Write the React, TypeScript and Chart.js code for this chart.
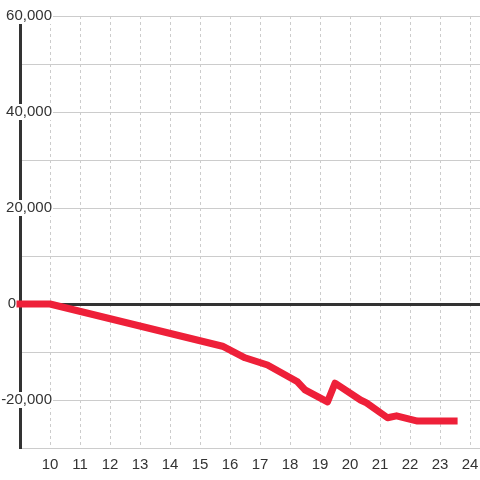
import { useEffect, useRef } from "react";
import { Chart, registerables } from "chart.js";

Chart.register(...registerables);

// Data (hour of day vs cumulative value)
const hours = [9, 10, 15.75, 16.5, 17.25, 18.25, 18.5, 19.25, 19.5, 20.35, 20.55, 21.25, 21.55, 22.25, 23.47];
const values = [0, 0, -8800, -11200, -12700, -16200, -17900, -20400, -16500, -20000, -20600, -23700, -23300, -24400, -24400];
const xTicks = [10, 11, 12, 13, 14, 15, 16, 17, 18, 19, 20, 21, 22, 23, 24];
const yLabelValues = [60000, 40000, 20000, 0, -20000];

const FONT = "'Liberation Sans', Arial, sans-serif";

const yLabelPlugin = {
  id: "yLabels",
  beforeDatasetsDraw(chart: any) {
    const { ctx, chartArea } = chart;
    const y = chart.scales.y;
    ctx.save();
    ctx.font = `15px ${FONT}`;
    ctx.textBaseline = "middle";
    ctx.textAlign = "right";
    for (const v of yLabelValues) {
      const py = y.getPixelForValue(v);
      const text = v.toLocaleString("en-US");
      const w = ctx.measureText(text).width;
      const right = v === 0 ? chartArea.left - 4 : chartArea.left + 32;
      ctx.fillStyle = "#fff";
      ctx.fillRect(right - w - 2, py - 8, w + 3, 16);
      ctx.fillStyle = "#333";
      ctx.fillText(text, right, py);
    }
    ctx.restore();
  },
};

export default function App() {
  const ref = useRef<HTMLCanvasElement>(null);
  useEffect(() => {
    if (!ref.current) return;
    const chart = new Chart(ref.current, {
      type: "line",
      data: {
        datasets: [
          {
            data: hours.map((h, i) => ({ x: h, y: values[i] })),
            borderColor: "#ee2039",
            borderWidth: 7,
            pointRadius: 0,
            borderCapStyle: "square",
            borderJoinStyle: "round",
            tension: 0,
            fill: false,
            clip: 6,
          } as any,
        ],
      },
      options: {
        responsive: false,
        animation: false,
        devicePixelRatio: 1,
        layout: { padding: { top: 16, left: 0, right: 0, bottom: 0 } },
        plugins: { legend: { display: false }, tooltip: { enabled: false } },
        scales: {
          x: {
            type: "linear",
            min: 9,
            max: 24.3333,
            afterBuildTicks: (s: any) => {
              s.ticks = xTicks.map((v) => ({ value: v }));
            },
            afterFit: (s: any) => {
              s.height = 32;
              s.paddingLeft = 0;
              s.paddingRight = 0;
            },
            ticks: {
              color: "#333",
              padding: 8,
              font: { family: FONT, size: 15 },
              maxRotation: 0,
              autoSkip: false,
            },
            grid: { color: "#ccc", lineWidth: 1, drawTicks: false },
            border: { display: false, dash: [3, 3] },
          },
          y: {
            type: "linear",
            min: -30000,
            max: 60000,
            ticks: { stepSize: 10000, display: false },
            afterFit: (s: any) => {
              s.width = 20;
              s.paddingTop = 0;
              s.paddingBottom = 0;
            },
            grid: {
              drawTicks: false,
              color: (c: any) => (c.tick && c.tick.value === 0 ? "#333" : "#ccc"),
              lineWidth: (c: any) => (c.tick && c.tick.value === 0 ? 3 : 1),
            },
            border: { display: true, color: "#333", width: 3 },
          },
        },
      },
      plugins: [yLabelPlugin],
    });
    return () => chart.destroy();
  }, []);
  return (
    <div style={{ position: "absolute", left: 0, top: 0, width: 480, height: 480, background: "#fff" }}>
      <canvas ref={ref} width={480} height={480} />
    </div>
  );
}
